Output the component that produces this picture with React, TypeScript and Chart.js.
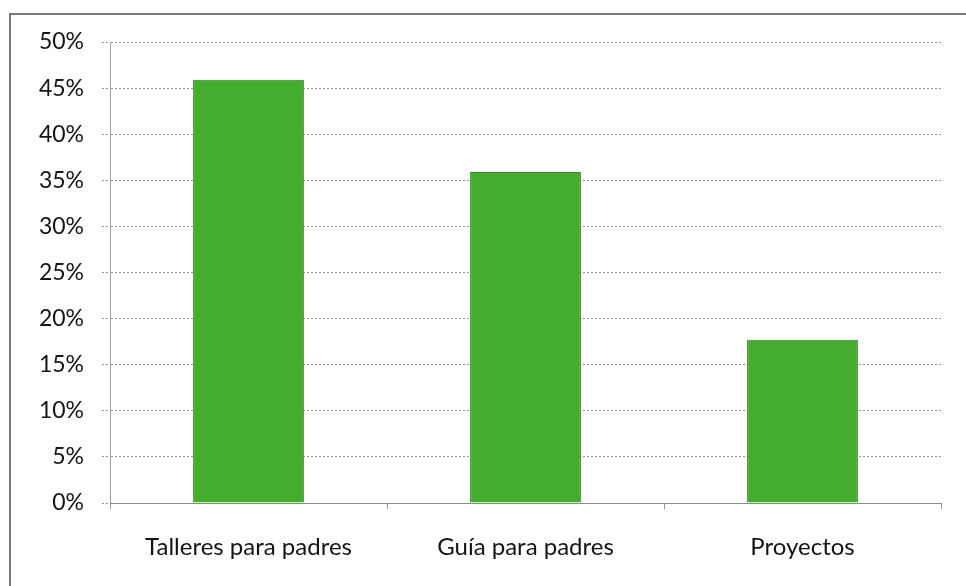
import React, { useEffect, useRef } from "react";
import { Chart, registerables } from "chart.js";

Chart.register(...registerables);

const categories = ["Talleres para padres", "Guía para padres", "Proyectos"];
const values = [45.9, 35.9, 17.7];
const yTicks = [0, 5, 10, 15, 20, 25, 30, 35, 40, 45, 50];

export default function App() {
  const ref = useRef<HTMLCanvasElement | null>(null);

  useEffect(() => {
    document.body.style.margin = "0";
    if (!ref.current) return;
    const chart = new Chart(ref.current, {
      type: "bar",
      data: {
        labels: categories,
        datasets: [
          {
            data: values,
            backgroundColor: "#44ad2e",
            borderColor: "#2e8a22",
            borderWidth: 1,
            barPercentage: 0.4,
            categoryPercentage: 1,
          },
        ],
      },
      options: {
        animation: false,
        responsive: false,
        maintainAspectRatio: false,
        layout: { padding: { left: 0, top: 42, right: 25, bottom: 0 } },
        plugins: { legend: { display: false }, tooltip: { enabled: false } },
        scales: {
          y: {
            min: 0,
            max: 50,
            afterFit: (s: any) => {
              s.width = 110;
            },
            afterBuildTicks: (s: any) => {
              s.ticks = yTicks.map((v) => ({ value: v }));
            },
            ticks: {
              stepSize: 5,
              padding: 18,
              color: "#151515",
              font: { family: "Lato", size: 23 },
              callback: (v: any) => v + "%",
            },
            grid: {
              color: "#949494",
              tickLength: 8,
              lineWidth: 1,
              tickBorderDash: [2, 2],
            },
            border: { color: "#a0a0a0", dash: [2, 2], width: 1 },
          },
          x: {
            afterFit: (s: any) => {
              s.height = 83;
            },
            ticks: {
              padding: 24,
              color: "#151515",
              font: { family: "Lato", size: 24 },
            },
            grid: {
              drawOnChartArea: false,
              drawTicks: true,
              tickLength: 6,
              color: "#9a9a9a",
              offset: true,
            },
            border: { color: "#8a8a8a", dash: [2, 2], width: 1 },
          },
        },
      },
    });
    return () => chart.destroy();
  }, []);

  return (
    <div style={{ position: "relative", width: 966, height: 586, background: "#fff" }}>
      <div
        style={{
          position: "absolute",
          left: 9,
          top: 13,
          right: 0,
          bottom: 0,
          borderLeft: "2px solid #7a7a7a",
          borderTop: "2px solid #7a7a7a",
        }}
      />
      <canvas ref={ref} width={966} height={586} style={{ position: "absolute", left: 0, top: 0 }} />
    </div>
  );
}
